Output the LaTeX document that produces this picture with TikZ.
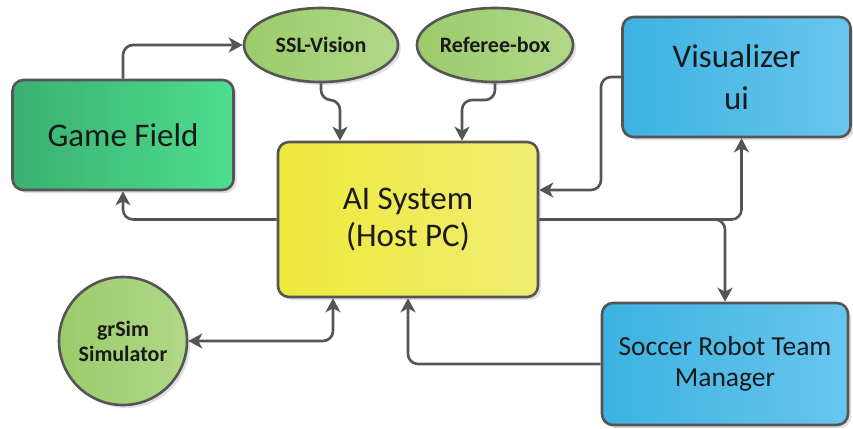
\documentclass[tikz,border=0pt]{standalone}
\usepackage{fontspec}
\setmainfont{Carlito}
\usetikzlibrary{shapes.geometric,shadows,arrows.meta}
\definecolor{edgegray}{HTML}{555555}
\definecolor{gfA}{HTML}{3AB070}
\definecolor{gfB}{HTML}{4EDE8E}
\definecolor{elA}{HTML}{9CCB6A}
\definecolor{elB}{HTML}{B0D889}
\definecolor{blA}{HTML}{3DB2E2}
\definecolor{blB}{HTML}{68C6EE}
\definecolor{ylA}{HTML}{EEEA3A}
\definecolor{ylB}{HTML}{F0EC72}
\definecolor{txt}{HTML}{1A1A1A}
\tikzset{
  shadowed/.style={drop shadow={opacity=0.25, shadow xshift=3pt, shadow yshift=-3pt}},
  boxnode/.style={draw=edgegray, line width=2.6pt, rounded corners=11pt, shadowed,
    align=center, text=txt, inner sep=0pt},
  ovalnode/.style={ellipse, draw=edgegray, line width=2.6pt, shadowed,
    left color=elA, right color=elB, text=txt, font=\bfseries\fontsize{22}{26}\selectfont,
    inner sep=0pt},
  conn/.style={draw=edgegray, line width=2.6pt, rounded corners=10pt,
    -{Stealth[length=14pt,width=15pt,inset=4pt]}},
}
\begin{document}
\begin{tikzpicture}[x=1pt,y=-1pt]
\useasboundingbox (0,0) rectangle (853,428);
% nodes
\node[boxnode, left color=gfA, right color=gfB, minimum width=221pt, minimum height=110pt,
  font=\fontsize{33}{38}\selectfont] (gf) at (123,135) {Game Field};
\node[ovalnode, minimum width=154pt, minimum height=74pt] (ssl) at (321,45) {SSL-Vision};
\node[ovalnode, minimum width=156pt, minimum height=74pt] (ref) at (495,45) {Referee-box};
\node[boxnode, left color=blA, right color=blB, minimum width=228pt, minimum height=120pt,
  font=\fontsize{33}{42}\selectfont] (vis) at (736.5,77) {Visualizer\\ui};
\node[boxnode, left color=ylA, right color=ylB, minimum width=260pt, minimum height=155pt,
  font=\fontsize{33}{37}\selectfont] (ai) at (408,219.5) {AI System\\(Host PC)};
\node[circle, draw=edgegray, line width=2.6pt, shadowed, left color=elA, right color=elB,
  minimum size=128pt, inner sep=0pt, align=center, text=txt,
  font=\bfseries\fontsize{22}{25}\selectfont] (gr) at (123,341) {grSim\\Simulator};
\node[boxnode, left color=blA, right color=blB, minimum width=246pt, minimum height=122pt,
  font=\fontsize{27.5}{31}\selectfont] (sr) at (725,364) {Soccer Robot Team\\Manager};
% helper coordinates
\coordinate (s1) at (340,100);
\coordinate (r1) at (462,100);
\coordinate (v1) at (601,190);
% connectors
\draw[conn] (gf.north) |- (ssl.west);
\draw[conn] (ssl.south) |- (s1) -- (s1 |- ai.north);
\draw[conn] (ref.south) |- (r1) -- (r1 |- ai.north);
\draw[conn] (vis.west) -| (v1) -- (v1 -| ai.east);
\draw[conn] (ai.east) -| ([xshift=5pt]vis.south);
\draw[conn] (ai.east) -| (sr.north);
\draw[conn] (ai.west) -| (gf.south);
\draw[conn, {Stealth[length=14pt,width=15pt,inset=4pt]}-{Stealth[length=14pt,width=15pt,inset=4pt]}]
  (gr.east) -| ([xshift=-75pt]ai.south);
\draw[conn] (sr.west) -| (ai.south);
\end{tikzpicture}
\end{document}
